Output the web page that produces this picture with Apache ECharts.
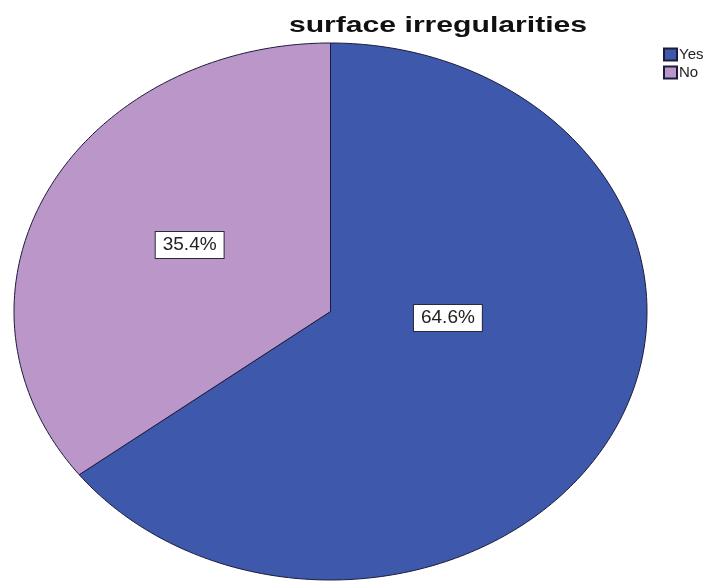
<!DOCTYPE html>
<html>
<head>
<meta charset="utf-8">
<script src="https://cdn.jsdelivr.net/npm/echarts@6/dist/echarts.min.js"></script>
<style>
  html, body { margin: 0; padding: 0; background: #ffffff; }
  #chart { width: 728px; height: 582px; }
</style>
</head>
<body>
<div id="chart"></div>
<script>
// Slice categories and their percentages
const categories = ['Yes', 'No'];
const percents = [64.6, 35.4];
const titleText = 'surface irregularities';

// Styling
const sliceColors = ['#3E58AC', '#BA96C9'];
const edgeColor = '#1c1c3a';
// Label anchors inside the unit ellipse (x right, y up)
const labelAnchors = [[0.371, -0.024], [-0.445, 0.248]];

const total = percents.reduce((a, b) => a + b, 0);
let acc = 0;
const spans = percents.map(v => {
  const start = acc / total;
  acc += v;
  return [start, acc / total, v];
});

function sliceRenderer(idx) {
  return function (params, api) {
    const s = api.value(0), e = api.value(1), pct = api.value(2);
    const color = api.visual('color');
    const pts = [api.coord([0, 0])];
    const steps = Math.max(8, Math.ceil((e - s) * 360));
    for (let i = 0; i <= steps; i++) {
      const t = 2 * Math.PI * (s + (e - s) * i / steps);
      pts.push(api.coord([Math.sin(t), Math.cos(t)]));
    }
    const lp = api.coord(labelAnchors[idx]);
    return {
      type: 'group',
      children: [
        {
          type: 'polygon',
          shape: { points: pts },
          style: { fill: color, stroke: edgeColor, lineWidth: 1 },
          z2: 1
        },
        {
          type: 'text',
          x: lp[0],
          y: lp[1],
          z2: 10,
          style: {
            text: pct.toFixed(1) + '%',
            fill: '#222',
            font: '19px "Liberation Sans", Arial, sans-serif',
            align: 'center',
            verticalAlign: 'middle',
            backgroundColor: '#ffffff',
            borderColor: '#2a2a3a',
            borderWidth: 1,
            padding: [4, 7, 3, 7]
          }
        }
      ]
    };
  };
}

const chart = echarts.init(document.getElementById('chart'), null, { renderer: 'canvas' });
chart.setOption({
  backgroundColor: '#ffffff',
  animation: false,
  graphic: [{
    type: 'text',
    x: 438,
    y: 26,
    scaleX: 1.37,
    style: {
      text: titleText,
      font: 'bold 22px "Liberation Sans", Arial, sans-serif',
      fill: '#111',
      align: 'center',
      verticalAlign: 'middle'
    }
  }],
  legend: {
    orient: 'vertical',
    left: 663,
    top: 47,
    padding: 0,
    itemWidth: 13,
    itemHeight: 12,
    itemGap: 3,
    icon: 'rect',
    selectedMode: false,
    data: categories,
    textStyle: {
      fontSize: 15,
      color: '#222',
      fontFamily: '"Liberation Sans", Arial, sans-serif',
      padding: [0, 0, 0, -3]
    }
  },
  grid: { left: 14, top: 43, width: 633, height: 537 },
  xAxis: { type: 'value', min: -1, max: 1, show: false },
  yAxis: { type: 'value', min: -1, max: 1, show: false },
  series: categories.map((name, i) => ({
    name: name,
    type: 'custom',
    coordinateSystem: 'cartesian2d',
    clip: false,
    silent: true,
    itemStyle: { color: sliceColors[i], borderColor: edgeColor, borderWidth: 1 },
    renderItem: sliceRenderer(i),
    data: [spans[i]]
  }))
});
</script>
</body>
</html>
